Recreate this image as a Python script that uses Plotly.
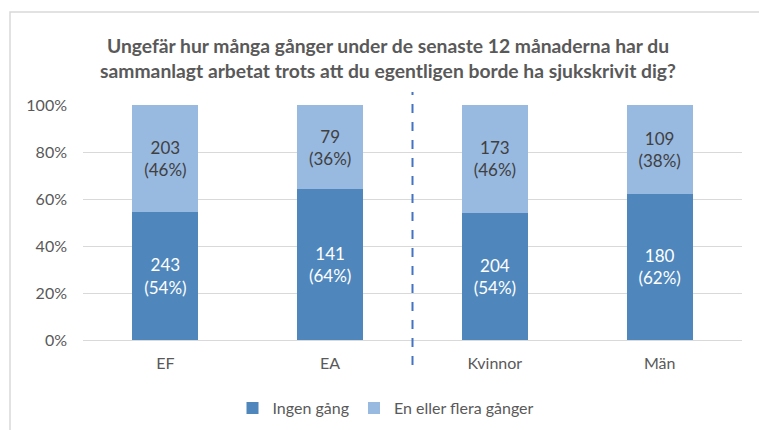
import plotly.graph_objects as go

categories = ["EF", "EA", "Kvinnor", "Män"]
ingen_gang = [243, 141, 204, 180]
en_eller_flera = [203, 79, 173, 109]
ingen_pct_labels = ["54%", "64%", "54%", "62%"]
flera_pct_labels = ["46%", "36%", "46%", "38%"]
y_ticks = [0, 20, 40, 60, 80, 100]
y_tick_labels = ["0%", "20%", "40%", "60%", "80%", "100%"]
title_text = ("Ungefär hur många gånger under de senaste 12 månaderna har du<br>"
              "sammanlagt arbetat trots att du egentligen borde ha sjukskrivit dig?")

FONT = "Lato"
DARK = "#4F87BD"
LIGHT = "#98B9E0"
GRAY = "#595959"

fig = go.Figure()
fig.add_trace(go.Bar(
    x=categories, y=ingen_gang, name="Ingen gång",
    marker=dict(color=DARK, line=dict(width=0)),
    text=[f"{v}<br>({p})" for v, p in zip(ingen_gang, ingen_pct_labels)],
    textposition="inside", insidetextanchor="middle",
    textfont=dict(color="white", size=17, family=FONT),
    hoverinfo="skip",
))
fig.add_trace(go.Bar(
    x=categories, y=en_eller_flera, name="En eller flera gånger",
    marker=dict(color=LIGHT, line=dict(width=0)),
    text=[f"{v}<br>({p})" for v, p in zip(en_eller_flera, flera_pct_labels)],
    textposition="inside", insidetextanchor="middle",
    textfont=dict(color="#404040", size=17, family=FONT),
    hoverinfo="skip",
))

L, R, T, B = 83, 17, 105, 90
W, H = 759, 430
pw = W - L - R
ph = H - T - B

fig.update_layout(
    width=W, height=H,
    barmode="stack", barnorm="percent", bargap=0.6,
    margin=dict(l=L, r=R, t=T, b=B, autoexpand=False),
    paper_bgcolor="white", plot_bgcolor="white",
    font=dict(family=FONT, color=GRAY, size=16),
    title=dict(
        text=title_text, xref="container", x=388 / W, xanchor="center",
        yref="container", y=1 - 53 / H, yanchor="top",
        font=dict(family=FONT, size=19.3, color=GRAY, weight="bold"),
    ),
    xaxis=dict(showgrid=False, showline=False, ticks="", zeroline=False,
               automargin=False, ticklabelstandoff=12,
               tickfont=dict(size=16, color=GRAY), fixedrange=True),
    yaxis=dict(range=[0, 100], tickmode="array", tickvals=y_ticks,
               ticktext=y_tick_labels, automargin=False,
               showgrid=True, gridcolor="#D9D9D9", gridwidth=1,
               zeroline=True, zerolinecolor="#D9D9D9", zerolinewidth=1,
               showline=False, ticks="", ticklen=0, ticklabelstandoff=15,
               tickfont=dict(size=16, color=GRAY), fixedrange=True),
    legend=dict(orientation="h", x=386 / W, xref="container", xanchor="center",
                y=1 - 408 / H, yref="container", yanchor="middle",
                font=dict(size=16, color=GRAY), traceorder="normal",
                itemwidth=30),
    showlegend=True,
)

# dashed separator between EA and Kvinnor
fig.add_shape(type="line", xref="x", yref="paper",
              x0=1.5, x1=1.5, y0=-(365 - 340) / ph, y1=(340 - 92) / ph,
              line=dict(color="#4472C4", width=2, dash="dash"))

# outer chart border
fig.add_shape(type="rect", xref="paper", yref="paper",
              x0=(10 - L) / pw, x1=(W + 5 - L) / pw,
              y0=-(H + 5 - (H - B)) / ph, y1=(H - B - 12) / ph,
              line=dict(color="#D9D9D9", width=1.5), fillcolor="rgba(0,0,0,0)",
              layer="below")

fig.write_html("out.html", config={"displayModeBar": False},
               post_script="document.body.style.margin='0';")
